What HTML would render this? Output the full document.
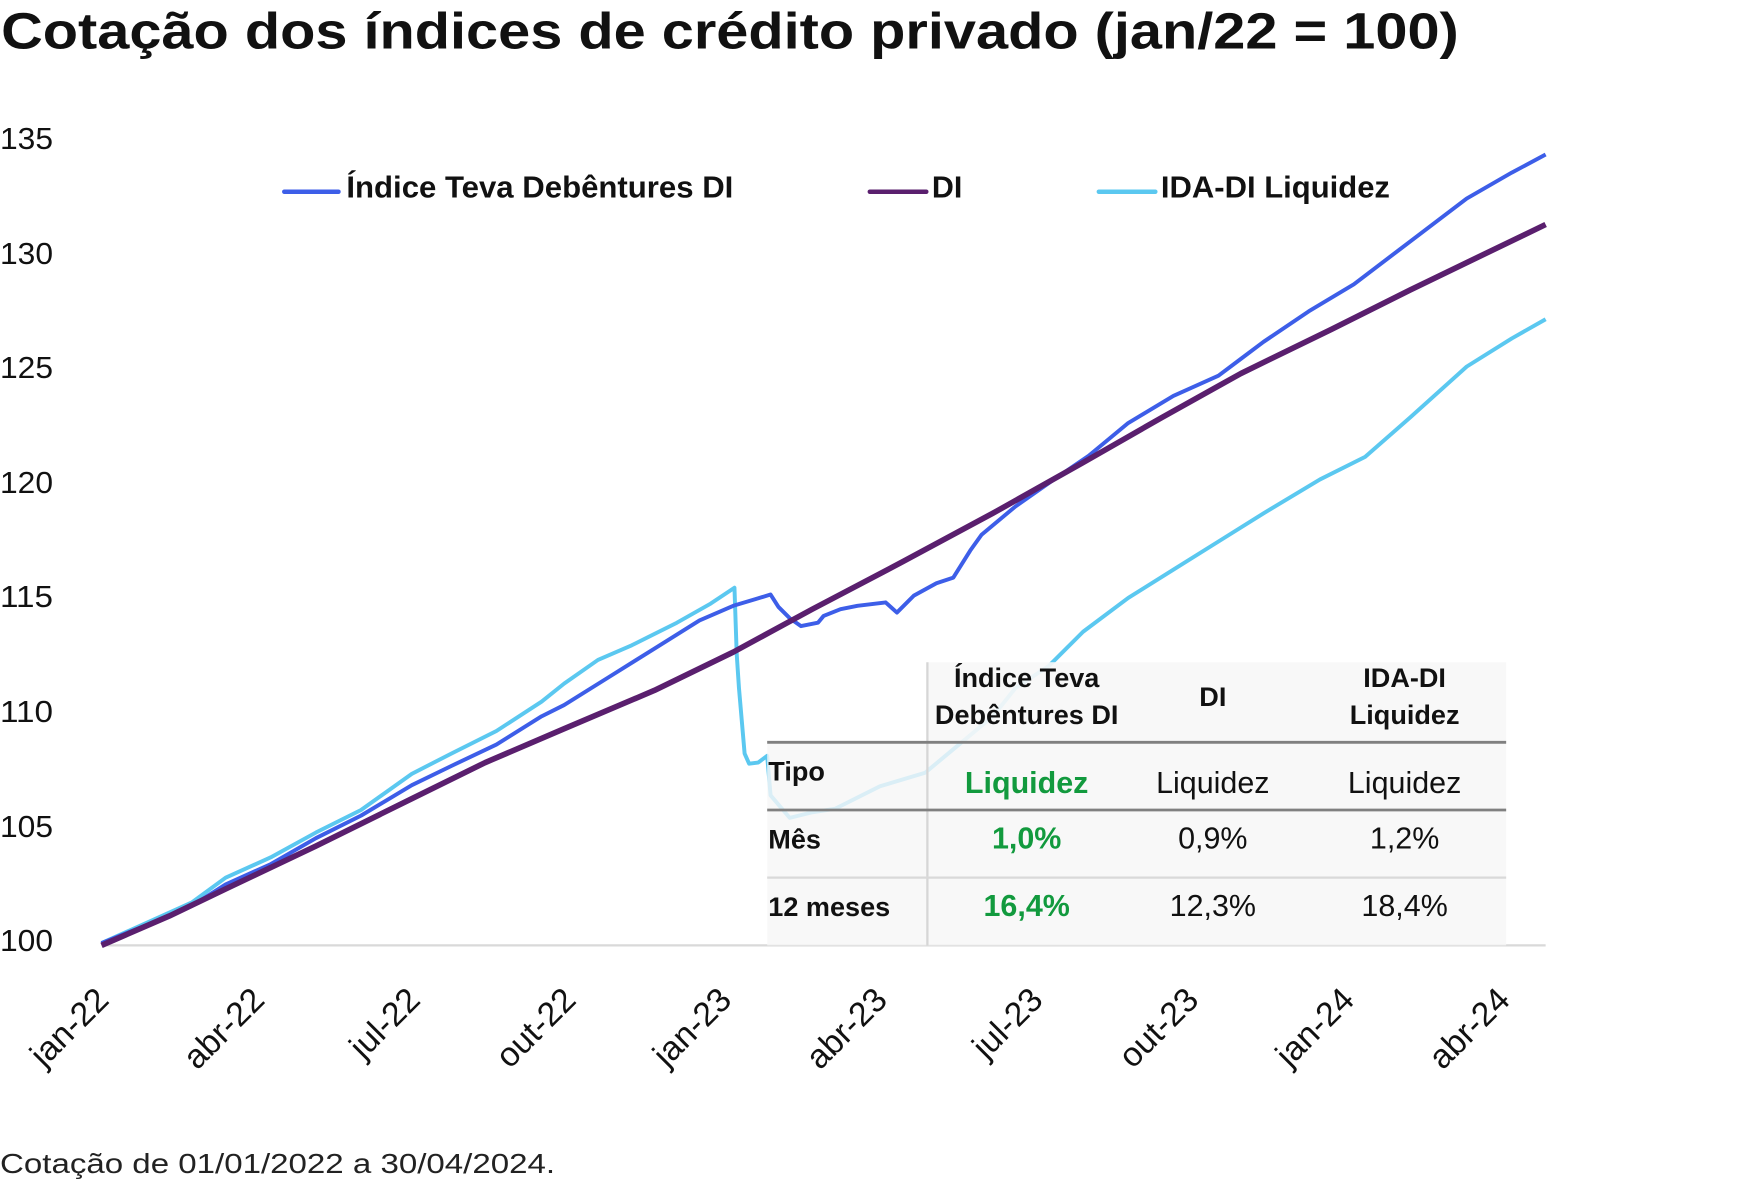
<!DOCTYPE html>
<html><head><meta charset="utf-8"><style>
html,body{margin:0;padding:0;background:#fff;}
svg{display:block;}
text{font-family:"Liberation Sans Narrow","Liberation Sans",sans-serif;}
</style></head><body>
<svg width="1760" height="1180" viewBox="0 0 1560 1046" preserveAspectRatio="none" xmlns="http://www.w3.org/2000/svg">
<text x="1" y="43" font-size="45" font-weight="bold" fill="#111" style="font-family:'Liberation Sans',sans-serif" textLength="1292" lengthAdjust="spacingAndGlyphs">Cotação dos índices de crédito privado (jan/22 = 100)</text>
<g font-size="27" fill="#111" style="font-family:'Liberation Sans',sans-serif">
<text x="0" y="132" textLength="47" lengthAdjust="spacingAndGlyphs">135</text>
<text x="0" y="234" textLength="47" lengthAdjust="spacingAndGlyphs">130</text>
<text x="0" y="335" textLength="47" lengthAdjust="spacingAndGlyphs">125</text>
<text x="0" y="437" textLength="47" lengthAdjust="spacingAndGlyphs">120</text>
<text x="0" y="538" textLength="47" lengthAdjust="spacingAndGlyphs">115</text>
<text x="0" y="640" textLength="47" lengthAdjust="spacingAndGlyphs">110</text>
<text x="0" y="742" textLength="47" lengthAdjust="spacingAndGlyphs">105</text>
<text x="0" y="843" textLength="47" lengthAdjust="spacingAndGlyphs">100</text>
</g>
<line x1="90" y1="838" x2="1370" y2="838" stroke="#d9d9d9" stroke-width="2"/>
<g font-size="30" fill="#111" text-anchor="end" style="font-family:'Liberation Sans',sans-serif">
<text transform="translate(98,888) rotate(-45)">jan-22</text>
<text transform="translate(236,888) rotate(-45)">abr-22</text>
<text transform="translate(374,888) rotate(-45)">jul-22</text>
<text transform="translate(512,888) rotate(-45)">out-22</text>
<text transform="translate(650,888) rotate(-45)">jan-23</text>
<text transform="translate(788,888) rotate(-45)">abr-23</text>
<text transform="translate(926,888) rotate(-45)">jul-23</text>
<text transform="translate(1064,888) rotate(-45)">out-23</text>
<text transform="translate(1202,888) rotate(-45)">jan-24</text>
<text transform="translate(1340,888) rotate(-45)">abr-24</text>
</g>
<g fill="none" stroke-linejoin="round">
<polyline stroke="#5bc8f0" stroke-width="3.5" points="90,836 130,818 170,800 200,778 240,760 280,738 320,718 365,686 400,668 440,648 480,622 500,606 530,585 560,572 600,552 630,535 651,521 653,580 655,610 660,668 664,677 672,676 680,670 683,705 700,725 720,720 740,717 780,697 820,685 850,660 880,635 900,610 930,590 960,560 1000,530 1040,505 1080,480 1120,455 1170,425 1210,405 1250,370 1300,325 1340,300 1370,283"/>
<polyline stroke="#3d5ee8" stroke-width="3.5" points="90,836 130,820 170,803 200,784 240,766 280,743 320,723 365,696 400,679 440,660 480,635 500,625 540,600 580,575 620,550 650,537 670,531 683,527 690,538 700,548 710,555 725,552 730,546 745,540 760,537 785,534 795,543 810,528 830,517 845,512 860,488 870,474 900,449 940,421 965,404 1000,375 1040,351 1080,333 1100,318 1120,303 1160,276 1200,252 1250,214 1300,176 1340,153 1370,137"/>
<polyline stroke="#5a1f6e" stroke-width="5" points="90,838 150,812 200,788 280,750 365,708 430,676 500,646 580,612 650,578 720,540 800,498 880,455 960,410 1030,370 1100,331 1180,292 1250,257 1310,228 1370,199"/>
</g>
<g stroke-width="4" stroke-linecap="round">
<line x1="252" y1="170" x2="300" y2="170" stroke="#3d5ee8"/>
<line x1="771" y1="170" x2="821" y2="170" stroke="#5a1f6e"/>
<line x1="974" y1="170" x2="1024" y2="170" stroke="#5bc8f0"/>
</g>
<g font-size="27" font-weight="bold" fill="#111">
<text x="307" y="175" textLength="343" lengthAdjust="spacingAndGlyphs">Índice Teva Debêntures DI</text>
<text x="826" y="175" textLength="27" lengthAdjust="spacingAndGlyphs">DI</text>
<text x="1029" y="175" textLength="203" lengthAdjust="spacingAndGlyphs">IDA-DI Liquidez</text>
</g>
<rect x="822" y="587" width="513" height="70" fill="#f7f7f7" fill-opacity="0.92"/>
<rect x="680" y="657" width="655" height="181" fill="#f7f7f7" fill-opacity="0.82"/>
<line x1="822" y1="587" x2="822" y2="838" stroke="#d6d6d6" stroke-width="2"/>
<line x1="680" y1="658" x2="1335" y2="658" stroke="#808080" stroke-width="2.5"/>
<line x1="680" y1="718" x2="1335" y2="718" stroke="#808080" stroke-width="2.5"/>
<line x1="680" y1="778" x2="1335" y2="778" stroke="#d9d9d9" stroke-width="2"/>
<g font-size="24" fill="#111" text-anchor="middle">
<text x="910" y="609" font-weight="bold">Índice Teva</text>
<text x="910" y="642" font-weight="bold">Debêntures DI</text>
<text x="1075" y="626" font-weight="bold">DI</text>
<text x="1245" y="609" font-weight="bold">IDA-DI</text>
<text x="1245" y="642" font-weight="bold">Liquidez</text>
<text x="910" y="703" font-weight="bold" fill="#129a3e" font-size="27">Liquidez</text>
<text x="1075" y="703" font-size="27">Liquidez</text>
<text x="1245" y="703" font-size="27">Liquidez</text>
<text x="910" y="752" font-weight="bold" fill="#129a3e" font-size="27">1,0%</text>
<text x="1075" y="752" font-size="27">0,9%</text>
<text x="1245" y="752" font-size="27">1,2%</text>
<text x="910" y="812" font-weight="bold" fill="#129a3e" font-size="27">16,4%</text>
<text x="1075" y="812" font-size="27">12,3%</text>
<text x="1245" y="812" font-size="27">18,4%</text>
</g>
<g font-size="24" font-weight="bold" fill="#111">
<text x="681" y="692">Tipo</text>
<text x="681" y="752">Mês</text>
<text x="681" y="812">12 meses</text>
</g>
<text x="0" y="1040" font-size="25" fill="#222" style="font-family:'Liberation Sans',sans-serif" textLength="492" lengthAdjust="spacingAndGlyphs">Cotação de 01/01/2022 a 30/04/2024.</text>
</svg>
</body></html>
